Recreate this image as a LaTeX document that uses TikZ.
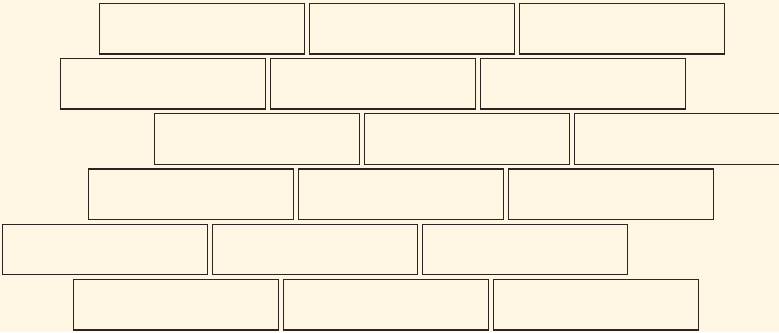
\documentclass[tikz,border=0pt]{standalone}
\definecolor{bg}{HTML}{FFF7E3}
\definecolor{edge}{HTML}{2A251F}
\begin{document}
\begin{tikzpicture}[x=1pt,y=-1pt,
  brick/.style={draw=edge,line width=1.3pt,fill=bg,minimum width=205pt,minimum height=50.5pt,anchor=north west,inner sep=0pt,outer sep=0pt}]
\fill[bg] (0,0) rectangle (779,332);
\useasboundingbox (0,0) rectangle (779,332);
\foreach \r/\off in {0/99.3,1/60.3,2/154.3,3/88.3,4/2.3,5/73.3}{
  \foreach \c in {0,1,2}{
    \node[brick] (b\r\c) at ({\off+210*\c},{3.4+55.2*\r}) {};
  }
}
\end{tikzpicture}
\end{document}
